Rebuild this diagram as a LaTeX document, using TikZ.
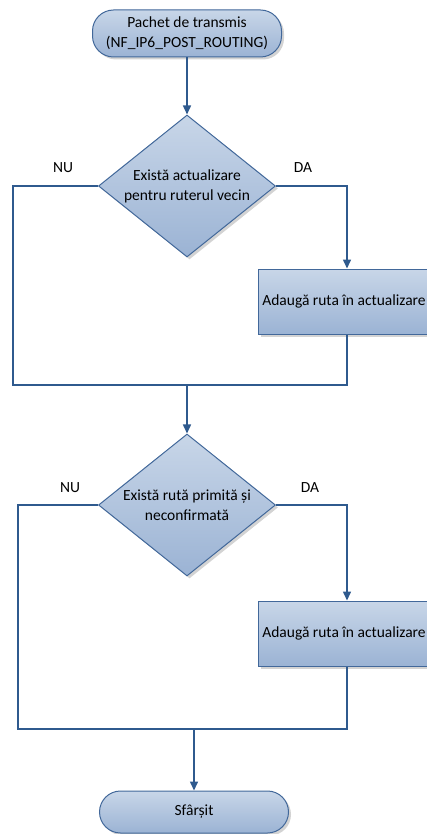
\documentclass[tikz,border=0pt]{standalone}
\usepackage{fontspec}
\setmainfont{Carlito}
\usetikzlibrary{arrows.meta,shapes.geometric,shadows}

\definecolor{flowline}{HTML}{2F5A8E}
\definecolor{flowedge}{HTML}{42689A}
\definecolor{filltop}{HTML}{C8D6E8}
\definecolor{fillbot}{HTML}{9BB3D4}

\tikzset{
  shapebase/.style={draw=flowedge, line width=1pt, top color=filltop, bottom color=fillbot,
    drop shadow={shadow xshift=2.5pt, shadow yshift=-2.5pt, opacity=0.35},
    font=\fontsize{15.5}{20}\selectfont, align=center, inner sep=0pt},
  terminal/.style={shapebase, rectangle, rounded corners=21pt, minimum width=189pt},
  decision/.style={shapebase, diamond, aspect=1.25, minimum width=177pt, minimum height=142pt},
  process/.style={shapebase, rectangle, minimum width=172pt, minimum height=65pt},
  lbl/.style={font=\fontsize{15.5}{20}\selectfont},
  conn/.style={draw=flowline, line width=1.5pt},
  flow/.style={conn, -{Triangle[length=9pt,width=8pt]}}
}

\begin{document}
\begin{tikzpicture}[x=1pt,y=-1pt]
  \useasboundingbox (0,0) rectangle (426,834);

  % nodes
  \node[terminal, minimum height=47pt] (t1) at (187,33.5) {Pachet de transmis\\(NF\_IP6\_POST\_ROUTING)};
  \node[decision] (d1) at (187,186) {Există actualizare\\pentru ruterul vecin};
  \node[process] (b1) at (344,301.5) {Adaugă ruta în actualizare};
  \coordinate (j1) at (187,385);
  \coordinate (l1) at (13,385);
  \node[decision] (d2) at (187,505) {Există rută primită și\\neconfirmată};
  \node[process] (b2) at (344,633.5) {Adaugă ruta în actualizare};
  \coordinate (j2) at (194,729);
  \coordinate (l2) at (18,729);
  \node[terminal, minimum height=42pt] (t2) at (194,812) {Sfârșit};

  % labels
  \node[lbl] (nu1) at (63,168) {NU};
  \node[lbl] (da1) at (303,168) {DA};
  \node[lbl] (nu2) at (70,488) {NU};
  \node[lbl] (da2) at (310,488) {DA};

  % connectors
  \draw[flow] (t1) -- (d1);
  \draw[flow] (d1.east) -| ([xshift=3pt]b1.north);
  \draw[conn] (d1.west) -| (l1) -- (j1);
  \draw[conn] ([xshift=3pt]b1.south) |- (j1);
  \draw[flow] (j1) -- (d2);
  \draw[flow] (d2.east) -| ([xshift=3pt]b2.north);
  \draw[conn] (d2.west) -| (l2) -- (j2);
  \draw[conn] ([xshift=3pt]b2.south) |- (j2);
  \draw[flow] (j2) -- (t2);
\end{tikzpicture}
\end{document}
